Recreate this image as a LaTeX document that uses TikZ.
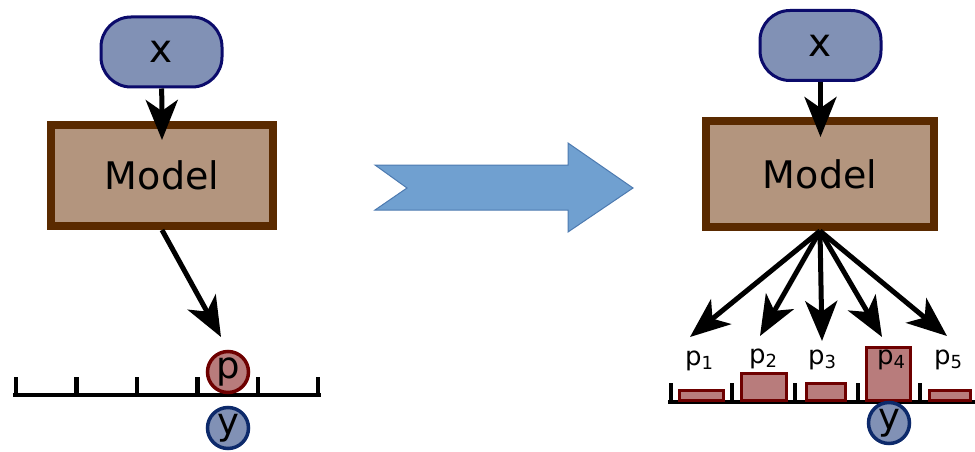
\documentclass[tikz,border=0pt]{standalone}
\usepackage{fontspec}
\setmainfont{DejaVu Sans}
\usetikzlibrary{arrows.meta}
\definecolor{xfill}{HTML}{8191B5}
\definecolor{xline}{HTML}{0B0B6B}
\definecolor{mfill}{HTML}{B3957E}
\definecolor{mline}{HTML}{5A2A00}
\definecolor{pfill}{HTML}{B87C7C}
\definecolor{pline}{HTML}{6E0000}
\definecolor{yline}{HTML}{0D2A6B}
\definecolor{bfill}{HTML}{70A0D0}
\definecolor{bline}{HTML}{4D7AB0}
\begin{document}
\begin{tikzpicture}[x=1pt,y=-1pt,
  xbox/.style={draw=xline,fill=xfill,line width=3pt,rounded corners=30pt,inner sep=0pt,
    minimum width=121pt,minimum height=70pt,font=\fontsize{39}{39}\selectfont},
  modelbox/.style={draw=mline,fill=mfill,line width=8pt,inner sep=0pt,
    font=\fontsize{38}{38}\selectfont},
  pcirc/.style={circle,draw=pline,fill=pfill,line width=3.5pt,inner sep=0pt,minimum size=41pt,
    font=\fontsize{37}{37}\selectfont},
  ycirc/.style={circle,draw=yline,fill=xfill,line width=3.5pt,inner sep=0pt,minimum size=41pt,
    font=\fontsize{37}{37}\selectfont},
  bar/.style={draw=pline,fill=pfill,line width=3pt},
  axis/.style={line width=4.5pt},
  arr/.style={line width=5pt,-{Stealth[length=40pt,width=32pt,inset=11pt]}},
  plab/.style={inner sep=0pt,font=\fontsize{26}{26}\selectfont},
]
\useasboundingbox (0,0) rectangle (975,452);

% ---------- left ----------
\draw[axis] (13,395) -- (321,395);
\foreach \t in {16,76.5,137,197.5,258,318}
  \draw[axis] (\t,395) -- (\t,377);
\node[xbox] (xL) at (161.5,52) {x};
\node[modelbox,minimum width=222pt,minimum height=101pt] (mL) at (162,175.5) {Model};
\node[pcirc] (pL) at (228,372) {p};
\node[ycirc] (yL) at (228,428) {y};
\coordinate (aL) at (162,140);
\coordinate (tL) at (221,337);
\draw[arr] (xL) -- (aL);
\draw[arr] (mL.south) -- (tL);

% ---------- middle arrow ----------
\draw[fill=bfill,draw=bline,line width=1pt]
  (375,165) -- (568,165) -- (568,143) -- (633,188) -- (568,232) -- (568,210)
  -- (375,210) -- (407,188) -- cycle;

% ---------- right ----------
\draw[axis] (668,402) -- (975,402);
\foreach \t in {671,732,795,858,920}
  \draw[axis] (\t,402) -- (\t,383);
\draw[bar] (679.5,400) rectangle (723.5,390.5);
\draw[bar] (741.5,400) rectangle (786.5,373.5);
\draw[bar] (806.5,400) rectangle (845.5,383.5);
\draw[bar] (866.5,400) rectangle (910.5,347.5);
\draw[bar] (929.5,400) rectangle (970.5,390.5);
\node[xbox] (xR) at (820.5,45.5) {x};
\node[modelbox,minimum width=228pt,minimum height=106pt] (mR) at (820,174) {Model};
\node[ycirc] (yR) at (889,423) {y};
\node[plab] (l1) at (699,361) {p\raisebox{-0.3ex}{\fontsize{18}{18}\selectfont 1}};
\node[plab] (l2) at (763,359) {p\raisebox{-0.3ex}{\fontsize{18}{18}\selectfont 2}};
\node[plab] (l3) at (822,360) {p\raisebox{-0.3ex}{\fontsize{18}{18}\selectfont 3}};
\node[plab] (l4) at (891,360) {p\raisebox{-0.3ex}{\fontsize{18}{18}\selectfont 4}};
\node[plab] (l5) at (948,360) {p\raisebox{-0.3ex}{\fontsize{18}{18}\selectfont 5}};
\coordinate (aR) at (820.5,137);
\coordinate (t1) at (690,337);
\coordinate (t2) at (760,336);
\coordinate (t3) at (822,341);
\coordinate (t4) at (882,337);
\coordinate (t5) at (947,336);
\draw[arr] (xR) -- (aR);
\foreach \t in {t1,t2,t3,t4,t5}
  \draw[arr] (mR.south) -- (\t);
\end{tikzpicture}
\end{document}
